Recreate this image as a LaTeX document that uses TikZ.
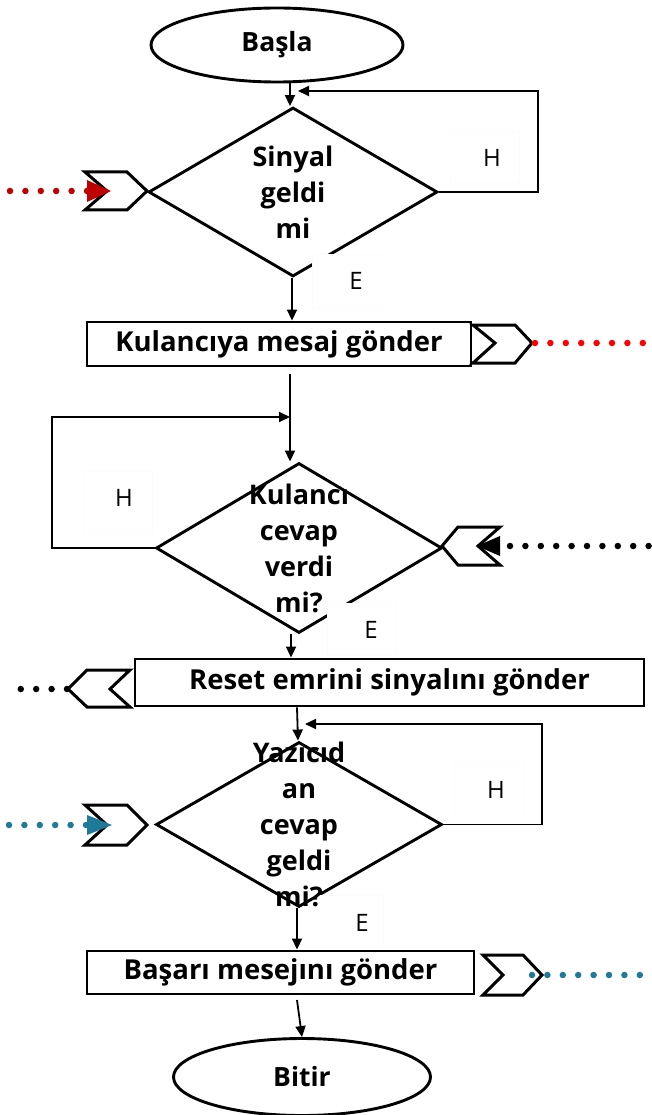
\documentclass[tikz,border=0pt]{standalone}
\usepackage{fontspec}
\setmainfont{Open Sans}
\usetikzlibrary{shapes.geometric,arrows.meta}
\definecolor{sigred}{HTML}{C00000}
\definecolor{brightred}{HTML}{FF0000}
\definecolor{sigteal}{HTML}{1F7A99}

\begin{document}
\begin{tikzpicture}[x=1pt,y=-1pt,
  shapeline/.style={draw=black,line width=2.9pt},
  term/.style={shapeline,ellipse,inner sep=0pt,font=\bfseries\fontsize{26.5}{30}\selectfont},
  proc/.style={shapeline,rectangle,inner sep=0pt,font=\bfseries\fontsize{27.5}{30}\selectfont},
  decision/.style={shapeline,diamond,inner sep=0pt},
  dtext/.style={align=center,font=\bfseries\fontsize{27}{36}\selectfont},
  lblbox/.style={fill=white,draw=black!1,line width=0.4pt,inner sep=0pt},
  lbl/.style={font=\fontsize{24}{28}\selectfont},
  flow/.style={draw=black,line width=1.8pt,-{Triangle[length=11pt,width=10pt]}},
  chev/.style={draw=black,line width=3pt,line join=miter},
  dots/.style={line width=6.5pt,line cap=round,dash pattern=on 0pt off 15.4pt},
]
\useasboundingbox (0,0) rectangle (652,1115);

% main flow shapes
\node[term, minimum width=252pt, minimum height=74pt] (basla) at (277,45) {Başla};
\node[decision, minimum width=289pt, minimum height=169pt] (d1) at (293,192) {};
\node[proc, minimum width=384pt, minimum height=44pt] (box1) at (279,344) {Kulancıya mesaj gönder};
\node[decision, minimum width=286pt, minimum height=170pt] (d2) at (299,548) {};
\node[proc, minimum width=509pt, minimum height=47pt] (box2) at (389.5,682.5) {Reset emrini sinyalını gönder};
\node[decision, minimum width=286pt, minimum height=165pt] (d3) at (299,824.5) {};
\node[proc, minimum width=387pt, minimum height=43pt] (box3) at (280.5,972.5) {Başarı mesejını gönder};
\node[term, minimum width=257pt, minimum height=77pt] (bitir) at (302,1077) {Bitir};

% signal chevrons
\draw[chev] (85,172) -- (127,172) -- (147,191) -- (127,210) -- (85,210) -- (107,191) -- cycle;
\draw[chev] (473,325) -- (515,325) -- (532,343) -- (515,363) -- (473,363) -- (495,343) -- cycle;
\draw[chev] (458,527) -- (500,527) -- (478,546) -- (500,565) -- (458,565) -- (442,546) -- cycle;
\draw[chev] (130,670) -- (87,670) -- (68,689) -- (87,707) -- (130,707) -- (110,689) -- cycle;
\draw[chev] (85,805) -- (127,805) -- (147,825) -- (127,845) -- (85,845) -- (107,825) -- cycle;
\draw[chev] (483,955) -- (523,955) -- (542,975) -- (523,995) -- (483,995) -- (503,975) -- cycle;

% branch label boxes
\node[lblbox, minimum width=69pt, minimum height=51pt] (hb1) at (484.5,156.5) {};
\node[lblbox, minimum width=69pt, minimum height=54pt] (eb1) at (346.5,281) {};
\node[lblbox, minimum width=69pt, minimum height=61pt] (hb2) at (117.5,501.5) {};
\node[lblbox, minimum width=69pt, minimum height=52pt] (eb2) at (361.5,629) {};
\node[lblbox, minimum width=70pt, minimum height=50pt] (hb3) at (489,788) {};
\node[lblbox, minimum width=66pt, minimum height=50pt] (eb3) at (350,920) {};

% connectors
\draw[flow] ([xshift=-3pt]d1.north |- basla.south) -- ([xshift=-3pt]d1.north);
\coordinate (k1) at (538,91);
\draw[flow] (d1.east) -| (k1) -- ([xshift=5pt]d1.north |- k1);
\draw[flow] ([xshift=-1pt]d1.south) -- ([xshift=-1pt]d1.south |- box1.north);
\coordinate (s2) at (290,374);
\draw[flow] (s2) -- (s2 |- d2.north);
\coordinate (k2) at (52,417);
\draw[flow] (d2.west) -| (k2) -- (s2 |- k2);
\draw[flow] ([xshift=-8pt]d2.south) -- ([xshift=-8pt]d2.south |- box2.north);
\draw[flow] ([xshift=-2pt]d3.north |- box2.south) -- ([xshift=-1pt]d3.north);
\coordinate (k3) at (542,724);
\draw[flow] (d3.east) -| (k3) -- ([xshift=6pt]d3.north |- k3);
\draw[flow] ([xshift=-2pt]d3.south) -- ([xshift=-2pt]d3.south |- box3.north);
\coordinate (s5) at (297,1000);
\draw[flow] (s5) -- (bitir.north);

% decision texts
\node[dtext] (t1) at (d1.center) {Sinyal\\geldi\\mi};
\node[dtext] (t2) at (d2.center) {Kulancı\\cevap\\verdi\\mi?};
\node[dtext] (t3) at (d3.center) {Yazıcıd\\an\\cevap\\geldi\\mi?};

% branch labels
\node[lbl] (h1) at (492,158) {H};
\node[lbl] (e1) at (356,281) {E};
\node[lbl] (h2) at (124,498) {H};
\node[lbl] (e2) at (371,630) {E};
\node[lbl] (h3) at (496,790) {H};
\node[lbl] (e3) at (362,923) {E};

% dotted signal lines
\coordinate (in1) at (5,191);
\draw[dots,sigred] (87,191) -- (in1);
\fill[sigred] (87,180) -- (111,191) -- (87,202) -- cycle;
\coordinate (out1) at (652,343);
\draw[dots,brightred] (535,343) -- (out1);
\coordinate (in2) at (652,546);
\draw[dots,black] (510,546) -- (in2);
\fill[black] (500,536) -- (477,546) -- (500,556) -- cycle;
\coordinate (out2) at (15,689);
\draw[dots,black] (67,689) -- (out2);
\coordinate (in3) at (5,825);
\draw[dots,sigteal] (86,825) -- (in3);
\fill[sigteal] (87,815) -- (112,825) -- (87,835) -- cycle;
\coordinate (out3) at (652,975);
\draw[dots,sigteal] (532,975) -- (out3);
\end{tikzpicture}
\end{document}
